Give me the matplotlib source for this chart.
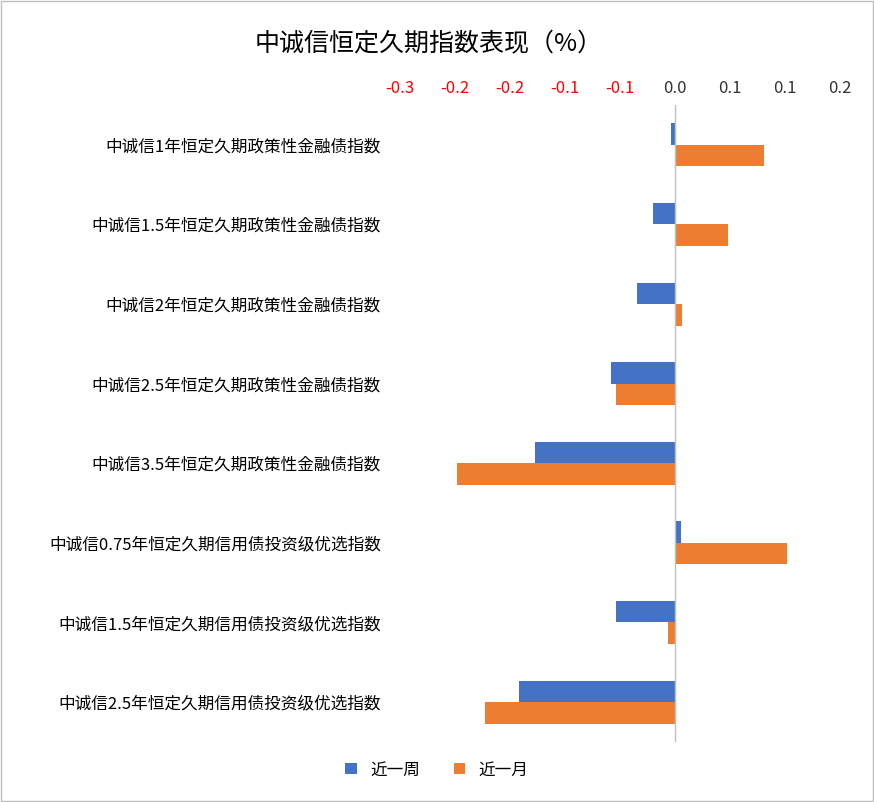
import matplotlib
matplotlib.use("Agg")
import matplotlib.pyplot as plt
import numpy as np
from matplotlib.patches import Rectangle
from matplotlib import font_manager

names = {f.name for f in font_manager.fontManager.ttflist}
cands = [n for n in ["Noto Sans CJK SC", "Noto Sans CJK JP", "Noto Sans CJK TC", "Noto Sans CJK KR"] if n in names]
plt.rcParams["font.family"] = "sans-serif"
plt.rcParams["font.sans-serif"] = cands + ["DejaVu Sans"]

categories = ["中诚信1年恒定久期政策性金融债指数", "中诚信1.5年恒定久期政策性金融债指数",
              "中诚信2年恒定久期政策性金融债指数", "中诚信2.5年恒定久期政策性金融债指数",
              "中诚信3.5年恒定久期政策性金融债指数", "中诚信0.75年恒定久期信用债投资级优选指数",
              "中诚信1.5年恒定久期信用债投资级优选指数", "中诚信2.5年恒定久期信用债投资级优选指数"]
week = [-0.004, -0.020, -0.035, -0.058, -0.127, 0.005, -0.054, -0.142]
month = [0.081, 0.048, 0.006, -0.054, -0.198, 0.102, -0.006, -0.173]
ticks = [-0.25, -0.2, -0.15, -0.1, -0.05, 0.0, 0.05, 0.1, 0.15]
tick_labels = ["-0.3", "-0.2", "-0.2", "-0.1", "-0.1", "0.0", "0.1", "0.1", "0.2"]

fig = plt.figure(figsize=(8.74, 8.02), dpi=100)
ax = fig.add_axes([0.458, 0.075, 0.503, 0.794])
y = np.arange(len(categories))
h = 0.27
ax.barh(y - h/2, week, height=h, color="#4472C4", label="近一周")
ax.barh(y + h/2, month, height=h, color="#ED7D31", label="近一月")
ax.set_ylim(len(categories) - 0.5, -0.5)
ax.set_xlim(-0.25, 0.15)
ax.set_yticks(y)
ax.set_yticklabels(categories, fontsize=12)
ax.xaxis.tick_top()
ax.set_xticks(ticks)
ax.set_xticklabels(tick_labels, fontsize=12)
for t, v in zip(ax.get_xticklabels(), ticks):
    t.set_color("red" if v < 0 else "#333333")
ax.tick_params(length=0, pad=6)
ax.tick_params(axis="y", pad=14)
for s in ax.spines.values():
    s.set_visible(False)
ax.axvline(0, color="#BFBFBF", lw=1)
fig.text(0.49, 0.945, "中诚信恒定久期指数表现（%）", ha="center", va="center", fontsize=18)
fig.legend(loc="center", bbox_to_anchor=(0.5, 0.04), ncol=2, frameon=False, fontsize=12,
           handlelength=0.7, handleheight=0.7)
fig.patches.append(Rectangle((0.001, 0.001), 0.998, 0.998, transform=fig.transFigure,
                             fill=False, edgecolor="#BFBFBF", lw=1))
fig.savefig("out.png", dpi=100)
